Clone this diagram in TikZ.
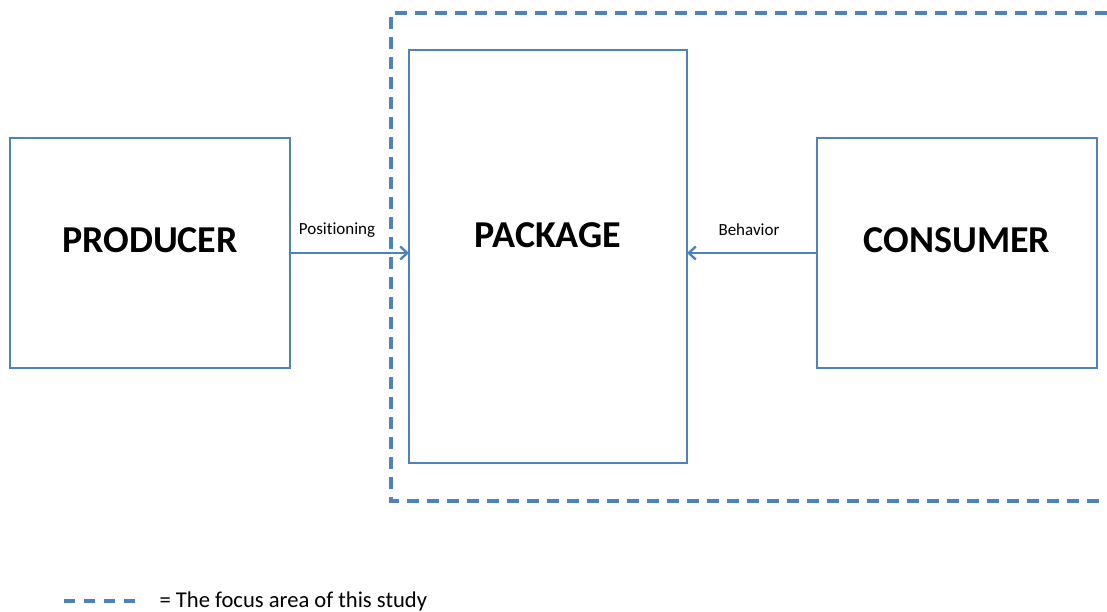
\documentclass[tikz,border=0pt]{standalone}
\usepackage{fontspec}
\setmainfont[Ligatures=NoCommon]{Carlito}
\usetikzlibrary{arrows.meta}
\definecolor{boxblue}{HTML}{4F81BD}
\begin{document}
\begin{tikzpicture}[x=1pt,y=-1pt,
  box/.style={draw=boxblue,line width=2.6pt,fill=white},
  focus/.style={draw=boxblue,line width=3.6pt,dash pattern=on 12pt off 8pt},
  conn/.style={draw=boxblue,line width=2.8pt,-{Straight Barb[length=7pt,width=13pt,line width=2.4pt]}},
  big/.style={font=\fontsize{38}{42}\selectfont\bfseries},
  small/.style={font=\fontsize{17}{20}\selectfont}]
\useasboundingbox (0,0) rectangle (1107,612);
\draw[focus] (1107,13) -- (391,13) -- (391,501) -- (1107,501);
\draw[box] (10,138) rectangle (290,368);
\draw[box] (409,50) rectangle (687,463);
\draw[box] (817,138) rectangle (1097,368);
\coordinate (pr) at (290,253);
\coordinate (pkl) at (409,253);
\coordinate (pkr) at (687,253);
\coordinate (co) at (817,253);
\node[big] (producer) at (150,240) {PRODUCER};
\node[big] (package) at (548,235) {PACKAGE};
\node[big] (consumer) at (957,240) {CONSUMER};
\draw[conn] (pr) -- (pkl);
\draw[conn] (co) -- (pkr);
\node[small] (pos) at (337,230) {Positioning};
\node[small] (beh) at (749,230) {Behavior};
\coordinate (l1) at (64,601);
\coordinate (l2) at (135,601);
\draw[focus,dash pattern=on 11pt off 9pt] (l1) -- (l2);
\node[font=\fontsize{22.6}{26}\selectfont,anchor=west] (legend) at (156,601) {= The focus area of this study};
\end{tikzpicture}
\end{document}
